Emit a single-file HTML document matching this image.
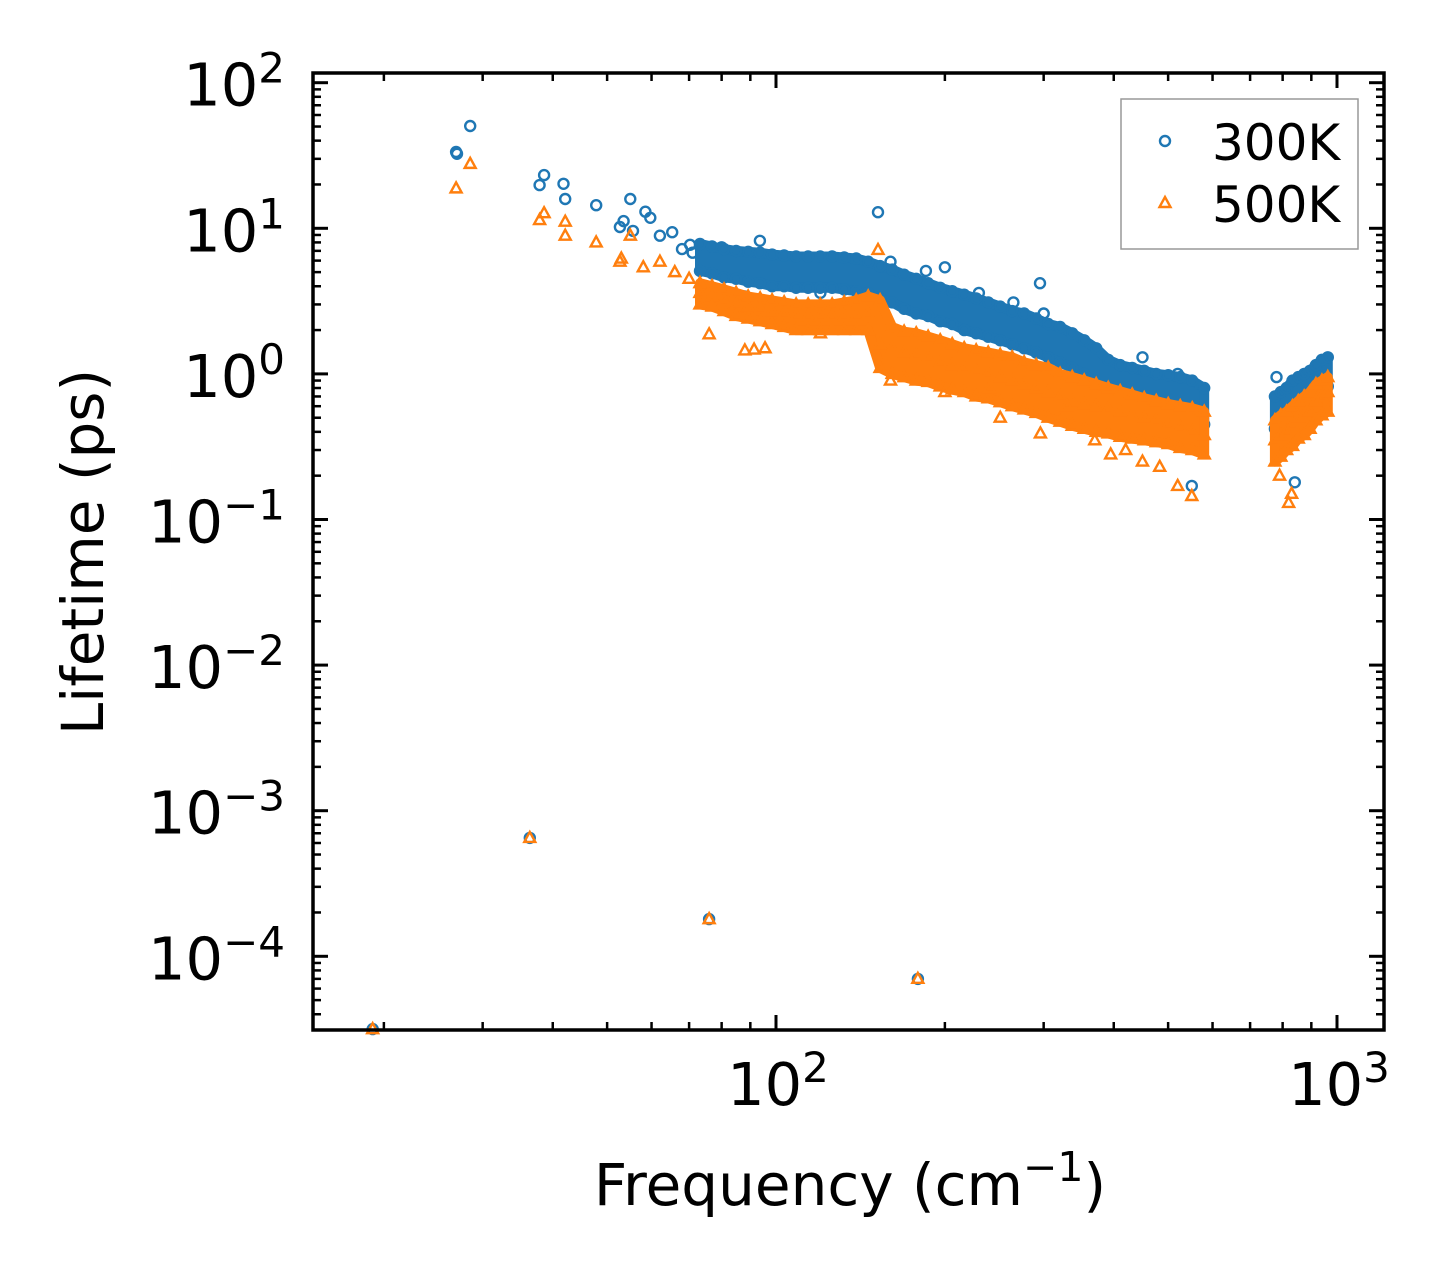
<!DOCTYPE html>
<html><head><meta charset="utf-8"><style>
html,body{margin:0;padding:0;background:#fff;}
svg{display:block;font-family:"DejaVu Sans","Liberation Sans",sans-serif;}
</style></head><body>
<svg id="chart" width="1445" height="1280" viewBox="0 0 1445 1280" xmlns="http://www.w3.org/2000/svg">
<rect x="0" y="0" width="1445" height="1280" fill="#fff"/>
<g id="marks"></g>
<g id="ticks"></g>
<rect x="313" y="73" width="1071" height="957" fill="none" stroke="#000" stroke-width="3.5"/>
<g id="labels" font-size="59" fill="#000"></g>
<text x="850" y="1205" font-size="58" text-anchor="middle">Frequency (cm<tspan dy="-24" font-size="41">−1</tspan><tspan dy="24">)</tspan></text>
<text transform="translate(103,552) rotate(-90)" font-size="58" text-anchor="middle">Lifetime (ps)</text>
<g>
<rect x="1121" y="99" width="237" height="150" fill="#fff" stroke="#999" stroke-width="1.5"/>
<circle cx="1165" cy="141" r="5" fill="none" stroke="#1f77b4" stroke-width="2.4"/>
<text x="1212" y="160" font-size="50">300K</text>
<path d="M1165,197 L1170.5,207 L1159.5,207 Z" fill="none" stroke="#ff7f0e" stroke-width="2.4"/>
<text x="1212" y="222" font-size="50">500K</text>
</g>
</svg>
<script>
const xMajor = [100, 1000];
const yMajorExp = [-4, -3, -2, -1, 0, 1, 2];
const bandFreq = [73.2,76.9,80.8,84.9,89.2,93.7,98.4,103.4,108.6,114.1,119.9,125.9,132.3,139,146,153.3,161.1,169.2,177.8,186.7,196.2,206.1,216.5,227.4,238.9,251,263.6,276.9,290.9,305.6,321,337.3,354.3,372.2,391,410.7,431.5,453.3,476.2,500.2,525.5,552,579.9];
const blueHi = [7.8,7.5,7.2,7.0,6.9,6.8,6.6,6.5,6.4,6.4,6.4,6.4,6.3,6.2,5.9,5.5,5.2,4.8,4.5,4.2,3.9,3.7,3.5,3.3,3.1,2.9,2.7,2.6,2.4,2.2,2.1,1.9,1.7,1.5,1.25,1.15,1.1,1.05,1.0,0.98,0.95,0.9,0.8];
const blueMid = [6.8,6.5,6.2,6,5.8,5.6,5.4,5.3,5.2,5.2,5.2,5.2,5.1,5,4.8,4.4,4.1,3.8,3.5,3.3,3.1,2.9,2.7,2.6,2.4,2.3,2.1,2.0,1.85,1.7,1.6,1.45,1.3,1.15,1.0,0.95,0.9,0.85,0.82,0.78,0.72,0.7,0.6];
const blueLo = [5.1,4.9,4.6,4.5,4.3,4.2,4.0,4.0,3.9,3.9,3.9,3.9,3.8,3.7,3.6,3.3,3.1,2.8,2.6,2.5,2.3,2.2,2.0,1.9,1.8,1.7,1.6,1.5,1.4,1.3,1.2,1.1,1.0,0.86,0.75,0.71,0.67,0.64,0.61,0.58,0.54,0.52,0.45];
const orangeHi = [4.2,4.0,3.8,3.6,3.4,3.3,3.2,3.1,3.0,3.0,3.0,3.0,3.1,3.2,3.4,3.2,2.1,1.95,1.9,1.8,1.7,1.6,1.5,1.45,1.4,1.35,1.3,1.2,1.15,1.1,1.0,0.95,0.9,0.85,0.8,0.76,0.72,0.68,0.65,0.62,0.6,0.58,0.55];
const orangeMid = [3.6,3.4,3.2,3.0,2.9,2.8,2.7,2.6,2.5,2.5,2.5,2.5,2.5,2.5,2.6,1.6,1.5,1.4,1.35,1.3,1.2,1.15,1.1,1.05,1.0,0.95,0.9,0.85,0.8,0.75,0.7,0.65,0.62,0.6,0.58,0.55,0.52,0.5,0.48,0.45,0.43,0.4,0.38];
const orangeLo = [3.0,2.9,2.7,2.5,2.4,2.3,2.2,2.1,2.0,2.0,2.0,2.0,2.0,2.0,2.0,1.1,1.0,0.95,0.9,0.88,0.82,0.78,0.75,0.7,0.68,0.64,0.6,0.57,0.54,0.5,0.47,0.44,0.42,0.4,0.39,0.37,0.36,0.35,0.34,0.33,0.31,0.3,0.28];
const hiFreq = [775,794,813,833,853,874,895,917,940,963];
const hiBlueTop = [0.7,0.75,0.8,0.9,0.95,1.0,1.05,1.15,1.25,1.3];
const hiBlueMid = [0.6,0.62,0.68,0.72,0.78,0.8,0.85,0.95,1.05,1.1];
const hiBlueLow = [0.42,0.45,0.48,0.52,0.58,0.6,0.62,0.7,0.78,0.82];
const hiOrangeTop = [0.48,0.52,0.55,0.6,0.65,0.7,0.75,0.85,0.9,0.95];
const hiOrangeMid = [0.35,0.38,0.4,0.45,0.5,0.52,0.55,0.65,0.7,0.75];
const hiOrangeLow = [0.25,0.27,0.3,0.32,0.36,0.38,0.42,0.48,0.52,0.55];
const blueExtraF = [19.1,36.4,76.0,179,26.9,27.0,28.5,37.9,38.6,42.1,41.8,47.8,55,52.7,53.5,58.5,59.7,55.6,62.1,65.3,70.3,93.6,152,295.5,200,551,841,780,450,68,71,80,88,120,160,185,230,265,300,520];
const blueExtraV = [3.16e-5,6.5e-4,1.8e-4,7.0e-5,33.4,32.5,50.4,19.8,23.2,15.9,20.2,14.4,15.9,10.2,11.2,13.0,11.8,9.6,8.9,9.4,7.7,8.2,12.9,4.2,5.4,0.17,0.18,0.95,1.3,7.2,6.8,7.4,3.4,3.6,5.9,5.1,3.6,3.1,2.6,1.0];
const orangeExtraF = [19.1,36.4,76.0,179,26.9,28.5,37.9,38.6,42.1,42.1,47.8,52.7,55,62.1,76,91.4,95.6,152,395,450,483,520,551,251,296,820,830,790,53,58,66,70,88,120,160,200,240,330,370,420];
const orangeExtraV = [3.16e-5,6.5e-4,1.8e-4,7.0e-5,18.8,27.7,11.4,12.7,11.1,8.9,8.0,5.9,8.9,5.9,1.87,1.47,1.5,7.1,0.28,0.25,0.23,0.17,0.145,0.5,0.39,0.13,0.15,0.2,6.2,5.4,5.0,4.5,1.45,1.9,0.9,0.75,0.8,0.6,0.35,0.3];

const X0 = 776, XD = 561, Y2 = 82.7, YD = 145.6;
const L = 313, R = 1384, T = 73, B = 1030;
function xs(f){ return X0 + XD*(Math.log10(f)-2); }
function ys(v){ return Y2 + YD*(2-Math.log10(v)); }
const NS = "http://www.w3.org/2000/svg";
const ticks = document.getElementById('ticks');
const labels = document.getElementById('labels');
const marks = document.getElementById('marks');
function line(x1,y1,x2,y2,w){
  const l = document.createElementNS(NS,'line');
  l.setAttribute('x1',x1); l.setAttribute('y1',y1); l.setAttribute('x2',x2); l.setAttribute('y2',y2);
  l.setAttribute('stroke','#000'); l.setAttribute('stroke-width',w);
  
  
  ticks.appendChild(l);
}
for (let e=1; e<=3; e++){
  for (let m=1; m<=9; m++){
    const x = xs(m*Math.pow(10,e));
    if (x < L || x > R) continue;
    const len = m===1 ? 15 : 8;
    const w = m===1 ? 3 : 2.5;
    line(x,B,x,B-len,w); line(x,T,x,T+len,w);
  }
}
for (let e=-5; e<=2; e++){
  for (let m=1; m<=9; m++){
    const y = ys(m*Math.pow(10,e));
    if (y < T || y > B) continue;
    const len = m===1 ? 15 : 8;
    const w = m===1 ? 3 : 2.5;
    line(L,y,L+len,y,w); line(R,y,R-len,y,w);
  }
}
function powLabel(x,y,exp,anchor,name){
  const t = document.createElementNS(NS,'text');
  t.setAttribute('x',x); t.setAttribute('y',y); t.setAttribute('text-anchor',anchor);
  
  
  const s = String(exp).replace('-','−');
  t.innerHTML = '10<tspan dy="-23" font-size="42">'+s+'</tspan>';
  labels.appendChild(t);
}
xMajor.forEach(f=>{ powLabel(xs(f)+2, 1105, Math.round(Math.log10(f)), 'middle', 'x-tick-label'); });
yMajorExp.forEach(e=>{ powLabel(285, ys(Math.pow(10,e))+23, e, 'end', 'y-tick-label'); });

function circle(f,v){
  const c = document.createElementNS(NS,'circle');
  c.setAttribute('cx',xs(f).toFixed(1)); c.setAttribute('cy',ys(v).toFixed(1)); c.setAttribute('r',5);
  c.setAttribute('fill','none'); c.setAttribute('stroke','#1f77b4'); c.setAttribute('stroke-width',2.4);
  
  
  marks.appendChild(c);
}
function tri(f,v){
  const x = xs(f), y = ys(v);
  const p = document.createElementNS(NS,'path');
  p.setAttribute('d','M'+x+','+(y-6)+' L'+(x+5.5)+','+(y+4)+' L'+(x-5.5)+','+(y+4)+' Z');
  p.setAttribute('fill','none'); p.setAttribute('stroke','#ff7f0e'); p.setAttribute('stroke-width',2.4);
  
  
  marks.appendChild(p);
}
function area(fs, hi, lo, color, name){
  let d = '';
  fs.forEach((f,i)=>{ d += (i?'L':'M') + xs(f).toFixed(1) + ',' + ys(hi[i]).toFixed(1) + ' '; });
  for (let i=fs.length-1;i>=0;i--){ d += 'L' + xs(fs[i]).toFixed(1) + ',' + ys(lo[i]).toFixed(1) + ' '; }
  d += 'Z';
  const p = document.createElementNS(NS,'path');
  p.setAttribute('d',d); p.setAttribute('fill',color); p.setAttribute('stroke',color);
  p.setAttribute('stroke-width',10); p.setAttribute('stroke-linejoin','round');
  
  
  marks.appendChild(p);
}
function band(fs, arrs, fn){
  fs.forEach((f,i)=>{ arrs.forEach(a=>fn(f,a[i])); });
}
// 300K
blueExtraF.forEach((f,i)=>circle(f,blueExtraV[i]));
area(bandFreq, blueHi, blueLo, '#1f77b4', 'band-300k');
area(hiFreq, hiBlueTop, hiBlueLow, '#1f77b4', 'band-300k-high');
band(bandFreq,[blueHi,blueLo],circle);
band(hiFreq,[hiBlueTop,hiBlueLow],circle);
// 500K
area(bandFreq, orangeHi, orangeLo, '#ff7f0e', 'band-500k');
area(hiFreq, hiOrangeTop, hiOrangeLow, '#ff7f0e', 'band-500k-high');
band(bandFreq,[orangeHi,orangeMid,orangeLo],tri);
band(hiFreq,[hiOrangeTop,hiOrangeMid,hiOrangeLow],tri);
orangeExtraF.forEach((f,i)=>tri(f,orangeExtraV[i]));
</script>
</body></html>
